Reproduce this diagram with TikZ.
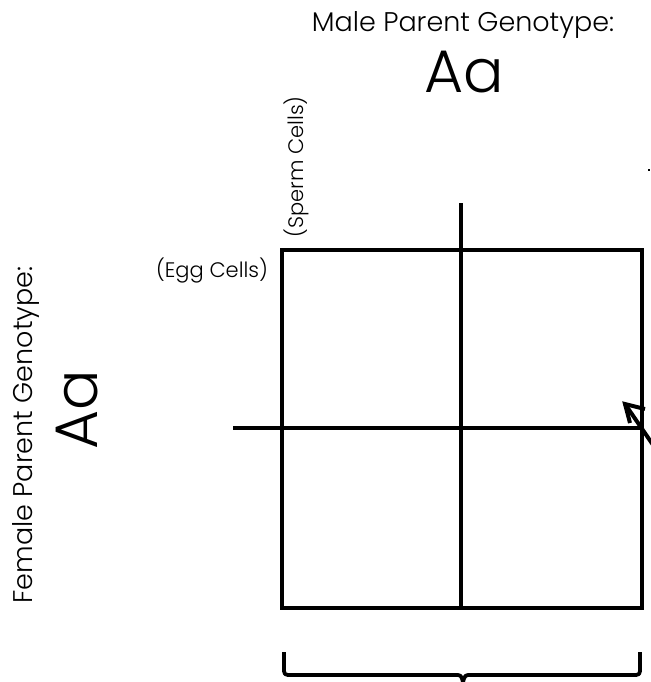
\documentclass[tikz,border=0pt]{standalone}
\usepackage{fontspec}
\setmainfont{Poppins}[UprightFont=* Light]
\begin{document}
\begin{tikzpicture}[x=1pt,y=-1pt,
  grid/.style={line width=3.8pt,line cap=rect},
  lbl/.style={inner sep=0pt,font=\fontsize{27}{29}\selectfont},
  big/.style={inner sep=0pt,font=\fontsize{60}{62}\selectfont},
  small/.style={inner sep=0pt,font=\fontsize{21}{23}\selectfont}]
\useasboundingbox (0,0) rectangle (650,682);
% grid
\coordinate (tl) at (282,250);
\coordinate (br) at (642,608);
\draw[grid] (tl) rectangle (br);
\coordinate (vtop) at (461,203);
\coordinate (vbot) at (461,608);
\draw[grid,line cap=butt] (vtop) -- (vbot);
\coordinate (hleft) at (233,428);
\coordinate (hright) at (642,428);
\draw[grid,line cap=butt] (hleft) -- (hright);
% texts
\node[lbl] (male) at (463,25) {Male Parent Genotype:};
\node[big] (maleg) at (464,72) {Aa};
\node[small,rotate=90] (sperm) at (296,167) {(Sperm Cells)};
\node[small] (egg) at (212,271) {(Egg Cells)};
\node[lbl,rotate=90] (female) at (26,435) {Female Parent Genotype:};
\node[big,rotate=90] (femaleg) at (77,410) {Aa};
% arrow
\coordinate (atail) at (662,458);
\coordinate (atip) at (625,404);
\coordinate (arm1) at (630,423);
\coordinate (arm2) at (645,409);
\draw[line width=4pt] (atail) -- (atip);
\draw[line width=4pt,line join=miter] (arm1) -- (atip) -- (arm2);
% small mark
\coordinate (m1) at (648,170);
\coordinate (m2) at (650,170);
\draw[line width=1.5pt] (m1) -- (m2);
% brace
\coordinate (bl) at (284,652);
\coordinate (brr) at (640,652);
\coordinate (bm) at (463,682);
\draw[line width=3.8pt,line join=round]
  (bl) -- (284,667) .. controls (284,675) .. (292,675) -- (455,675)
  .. controls (461,675) .. (bm)
  .. controls (465,675) .. (471,675) -- (632,675)
  .. controls (640,675) .. (640,667) -- (brr);
\end{tikzpicture}
\end{document}
